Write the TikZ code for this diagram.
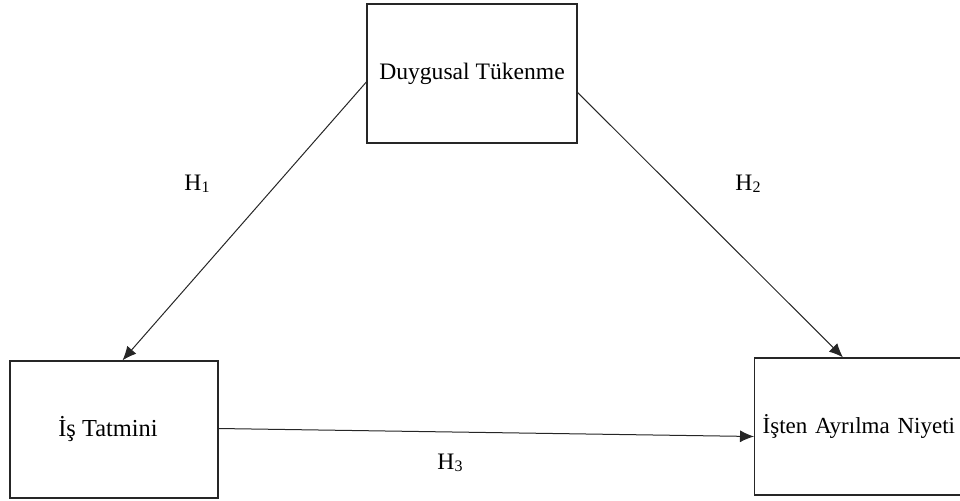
\documentclass[tikz,border=0pt]{standalone}
\usepackage{fontspec}
\setmainfont{Liberation Serif}
\usetikzlibrary{arrows.meta,calc}
\tikzset{
  box/.style={draw=black!85, line width=0.65pt, inner sep=0pt, font=\fontsize{11.8}{14}\selectfont},
  conn/.style={draw=black!85, line width=0.5pt, -{Latex[length=7pt,width=6pt]}},
  hlab/.style={font=\fontsize{11.8}{14}\selectfont, inner sep=0pt}
}
\newcommand{\hsub}[1]{\raisebox{-0.15ex}{\fontsize{8}{9}\selectfont #1}}
\begin{document}
\begin{tikzpicture}[x=0.5pt,y=-0.5pt]
\useasboundingbox (0,0) rectangle (960,500);
\clip (0,0) rectangle (960,500);
\node[box, minimum width=105pt, minimum height=69.5pt] (t) at (472,73.5) {\raisebox{-3pt}{Duygusal Tükenme}};
\node[box, minimum width=104pt, minimum height=68.5pt] (l) at (114,429.5) {\hspace{-6pt}\raisebox{-2.5pt}{\fontsize{12.2}{14}\selectfont İş Tatmini}};
\node[box, anchor=west, minimum height=68.5pt, text width=120pt, inner xsep=4pt] (r) at (754,426.5) {\raisebox{-1.5pt}{\fontsize{11.5}{14}\selectfont İşten Ayrılma Niyeti}};
\coordinate (t1) at ($(t.west)+(0,8.5)$);
\coordinate (t2) at ($(t.east)+(0,19)$);
\coordinate (l1) at ($(l.north)+(8.5,0)$);
\coordinate (l2) at ($(l.east)+(0,-1)$);
\coordinate (r1) at ($(r.north west)+(89,0)$);
\coordinate (r2) at ($(r.west)+(0,10)$);
\draw[conn] (t1) -- (l1);
\draw[conn] (t2) -- (r1);
\draw[conn] (l2) -- (r2);
\node[hlab] (h1) at (197,184) {H\hsub{1}};
\node[hlab] (h2) at (748,184) {H\hsub{2}};
\node[hlab] (h3) at (450,463) {H\hsub{3}};
\end{tikzpicture}
\end{document}
